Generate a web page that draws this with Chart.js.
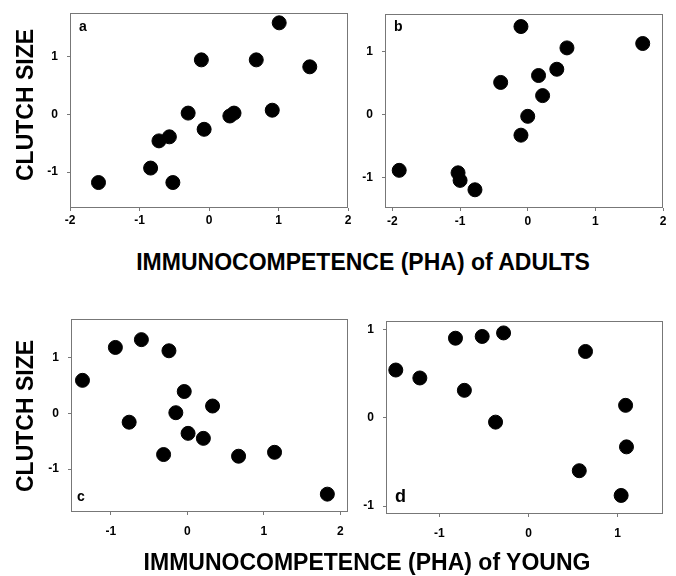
<!DOCTYPE html>
<html>
<head>
<meta charset="utf-8">
<script src="https://cdn.jsdelivr.net/npm/chart.js@4"></script>
<style>
  body { margin: 0; background: #fff; }
  #wrap { position: relative; width: 676px; height: 576px; overflow: hidden; background: #fff; }
  #wrap canvas { position: absolute; }
  .ttl { position: absolute; font: bold 23px "Liberation Sans", Arial, sans-serif; color: #000; white-space: nowrap; transform: translate(-50%, -50%); }
  .rot { transform: translate(-50%, -50%) rotate(-90deg); }
</style>
</head>
<body>
<div id="wrap">
  <canvas id="pa"></canvas>
  <canvas id="pb"></canvas>
  <canvas id="pc"></canvas>
  <canvas id="pd"></canvas>
  <div class="ttl rot" style="left:25px; top:105px;">CLUTCH SIZE</div>
  <div class="ttl rot" style="left:25px; top:416px;">CLUTCH SIZE</div>
  <div class="ttl" style="left:363px; top:262px;">IMMUNOCOMPETENCE (PHA) of ADULTS</div>
  <div class="ttl" style="left:367px; top:562px;">IMMUNOCOMPETENCE (PHA) of YOUNG</div>
</div>
<script>
// panel a: adults PHA vs clutch size
const aX = [1.01, -0.11, 0.68, 1.45, -0.30, 0.30, 0.36, 0.91, -0.07, -0.72, -0.57, -0.84, -1.59, -0.52];
const aY = [1.58, 0.94, 0.94, 0.82, 0.02, -0.03, 0.02, 0.07, -0.26, -0.46, -0.39, -0.93, -1.18, -1.18];
// panel b
const bX = [-0.10, 0.58, 1.70, -0.40, 0.16, 0.43, 0.22, 0.00, -0.10, -1.90, -1.03, -1.00, -0.78];
const bY = [1.40, 1.06, 1.13, 0.51, 0.62, 0.72, 0.30, -0.03, -0.33, -0.89, -0.93, -1.05, -1.20];
// panel c: young PHA
const cX = [-1.37, -0.94, -0.60, -0.24, -0.04, -0.15, 0.33, -0.76, 0.01, 0.21, -0.31, 0.67, 1.14, 1.83];
const cY = [0.59, 1.18, 1.32, 1.12, 0.39, 0.01, 0.13, -0.16, -0.36, -0.45, -0.74, -0.77, -0.70, -1.45];
// panel d
const dX = [-1.49, -1.22, -0.82, -0.52, -0.28, -0.72, -0.37, 0.64, 1.09, 1.10, 0.57, 1.04];
const dY = [0.54, 0.45, 0.90, 0.92, 0.96, 0.31, -0.05, 0.75, 0.14, -0.33, -0.60, -0.88];

const ticksAX = [-2, -1, 0, 1, 2];
const ticksAY = [-1, 0, 1];
const ticksBX = [-2, -1, 0, 1, 2];
const ticksBY = [-1, 0, 1];
const ticksCX = [-1, 0, 1, 2];
const ticksCY = [-1, 0, 1];
const ticksDX = [-1, 0, 1];
const ticksDY = [-1, 0, 1];

Chart.defaults.font.family = '"Liberation Sans", Arial, sans-serif';
Chart.defaults.font.weight = 'bold';
Chart.defaults.font.size = 12;
Chart.defaults.color = '#000';

const AXIS = '#777';

const frame = {
  id: 'frame',
  afterDraw(chart, args, opts) {
    const a = chart.chartArea, c = chart.ctx;
    c.save();
    c.strokeStyle = AXIS;
    c.lineWidth = 1;
    c.strokeRect(a.left + 0.5, a.top + 0.5, a.right - a.left - 1, a.bottom - a.top - 1);
    c.fillStyle = '#000';
    c.font = 'bold ' + opts.size + 'px "Liberation Sans", Arial, sans-serif';
    c.textAlign = 'left';
    c.textBaseline = 'middle';
    c.fillText(opts.letter, a.left + opts.dx, a.top + opts.dy);
    c.restore();
  }
};

function panel(id, box, xs, ys, xr, yr, xt, yt, xPad, letter) {
  const padL = 45, padT = 10, padR = 10, padB = 35;
  const cv = document.getElementById(id);
  cv.width = box[2] - box[0] + padL + padR;
  cv.height = box[3] - box[1] + padT + padB;
  cv.style.left = (box[0] - padL) + 'px';
  cv.style.top = (box[1] - padT) + 'px';
  new Chart(cv, {
    type: 'scatter',
    data: {
      datasets: [{
        data: xs.map((x, i) => ({ x: x, y: ys[i] })),
        backgroundColor: '#000',
        borderColor: '#000',
        pointRadius: 7,
        pointHoverRadius: 7
      }]
    },
    options: {
      responsive: false,
      animation: false,
      layout: { padding: { top: padT, right: padR, left: 0, bottom: 0 } },
      plugins: {
        legend: { display: false },
        tooltip: { enabled: false },
        frame: letter
      },
      scales: {
        x: {
          min: xr[0], max: xr[1],
          afterBuildTicks: s => { s.ticks = xt.map(v => ({ value: v })); },
          afterFit: s => { s.height = padB; s.paddingLeft = 0; s.paddingRight = 0; },
          grid: { drawOnChartArea: false, color: AXIS, tickLength: 3 },
          border: { display: false },
          ticks: { padding: xPad, maxRotation: 0, autoSkip: false }
        },
        y: {
          min: yr[0], max: yr[1],
          afterBuildTicks: s => { s.ticks = yt.map(v => ({ value: v })); },
          afterFit: s => { s.width = padL; s.paddingTop = 0; s.paddingBottom = 0; },
          grid: { drawOnChartArea: false, color: AXIS, tickLength: 3 },
          border: { display: false },
          ticks: { padding: 9, autoSkip: false }
        }
      }
    },
    plugins: [frame]
  });
}

panel('pa', [70, 13, 348, 208], aX, aY, [-2, 2], [-1.62, 1.75], ticksAX, ticksAY, 2,
  { letter: 'a', size: 14, dx: 9, dy: 14 });
panel('pb', [385, 14, 663, 208], bX, bY, [-2.11, 2.0], [-1.49, 1.6], ticksBX, ticksBY, 3,
  { letter: 'b', size: 14, dx: 9, dy: 13 });
panel('pc', [71, 319, 348, 512], cX, cY, [-1.52, 2.10], [-1.77, 1.69], ticksCX, ticksCY, 9,
  { letter: 'c', size: 14, dx: 6, dy: 178 });
panel('pd', [386, 321, 663, 514], dX, dY, [-1.60, 1.51], [-1.09, 1.095], ticksDX, ticksDY, 9,
  { letter: 'd', size: 18, dx: 9, dy: 176 });
</script>
</body>
</html>
